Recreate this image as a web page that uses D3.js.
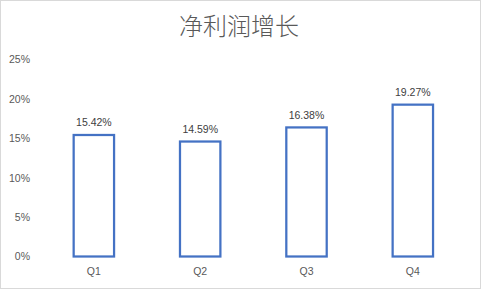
<!DOCTYPE html>
<html>
<head>
<meta charset="utf-8">
<script src="https://cdn.jsdelivr.net/npm/d3@7"></script>
<style>
  html, body { margin: 0; padding: 0; background: #fff; }
  svg { display: block; }
</style>
</head>
<body>
<div id="chart"></div>
<script>
// data
const categories = ['Q1', 'Q2', 'Q3', 'Q4']
const values = [0.1542, 0.1459, 0.1638, 0.1927]
const yTicks = [0, 0.05, 0.10, 0.15, 0.20, 0.25]
const title = '净利润增长'

const width = 481
const height = 289

let svg = d3.select('#chart')
    .append('svg')
    .attr('width', width)
    .attr('height', height)

// outer frame
svg.append('rect')
    .attr('x', 0.5)
    .attr('y', 0.5)
    .attr('width', width - 1)
    .attr('height', height - 1)
    .attr('fill', '#fff')
    .attr('stroke', '#d9d9d9')

svg.append('text')
    .attr('x', 239)
    .attr('y', 35)
    .attr('text-anchor', 'middle')
    .attr('font-family', '"Noto Sans CJK SC", sans-serif')
    .attr('font-size', 24)
    .attr('font-weight', 300)
    .attr('fill', '#595959')
    .text(title)

let x = d3.scaleBand()
    .domain(categories)
    .range([40.7, 466])
    .paddingInner(0.62)
    .paddingOuter(0.31)

let y = d3.scaleLinear()
    .domain([0, 0.25])
    .range([256.5, 59.5])

let fmt = d3.format('.0%')

// y axis (labels only)
let yAxis = d3.axisLeft(y)
    .tickValues(yTicks)
    .tickFormat(fmt)
    .tickSize(0)
    .tickPadding(0)

let gy = svg.append('g')
    .attr('transform', 'translate(30,0)')
    .call(yAxis)
gy.select('.domain').remove()
gy.selectAll('text')
    .attr('font-family', '"Liberation Sans", Arial, sans-serif')
    .attr('font-size', 10.5)
    .attr('fill', '#595959')

// x axis (labels only)
let xAxis = d3.axisBottom(x)
    .tickSize(0)
    .tickPadding(0)
let gx = svg.append('g')
    .attr('transform', 'translate(0,268)')
    .call(xAxis)
gx.select('.domain').remove()
gx.selectAll('text')
    .attr('font-family', '"Liberation Sans", Arial, sans-serif')
    .attr('font-size', 10.5)
    .attr('fill', '#595959')

// bars
svg.append('g')
    .selectAll('rect')
    .data(values)
    .enter()
    .append('rect')
    .attr('x', function (d, i) { return x(categories[i]) })
    .attr('y', function (d) { return y(d) })
    .attr('width', x.bandwidth())
    .attr('height', function (d) { return y(0) - y(d) })
    .attr('fill', '#fff')
    .attr('stroke', '#4472c4')
    .attr('stroke-width', 2.25)

// data labels
svg.append('g')
    .selectAll('text')
    .data(values)
    .enter()
    .append('text')
    .attr('x', function (d, i) { return x(categories[i]) + x.bandwidth() / 2 })
    .attr('y', function (d) { return y(d) - 8.5 })
    .attr('text-anchor', 'middle')
    .attr('font-family', '"Liberation Sans", Arial, sans-serif')
    .attr('font-size', 10.5)
    .attr('fill', '#404040')
    .text(function (d) { return (d * 100).toFixed(2) + '%' })
</script>
</body>
</html>
